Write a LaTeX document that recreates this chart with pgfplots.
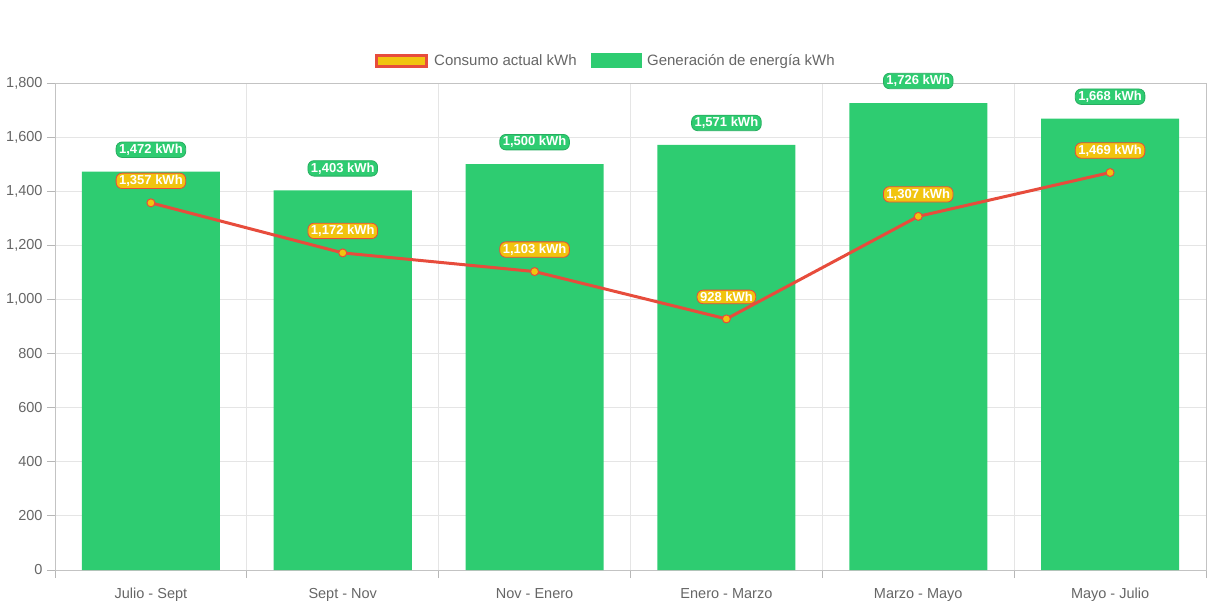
\documentclass[border=0pt]{standalone}
\usepackage{pgfplots}
\pgfplotsset{compat=1.18}
\usepackage{fontspec}
\setmainfont{Liberation Sans}

\definecolor{verde}{HTML}{2ECC71}
\definecolor{verdeosc}{HTML}{27AE60}
\definecolor{rojo}{HTML}{E74C3C}
\definecolor{amarillo}{HTML}{F1C40F}
\definecolor{texto}{HTML}{666666}
\definecolor{rejilla}{HTML}{E5E5E5}

\pgfplotstableread{
x gen cons
0 1472 1357
1 1403 1172
2 1500 1103
3 1571 928
4 1726 1307
5 1668 1469
}\datos

\begin{document}
\begin{tikzpicture}
\useasboundingbox (-55bp,-36bp) rectangle (1158bp,570bp);
\begin{axis}[
  at={(0,0)}, anchor=south west,
  scale only axis,
  width=1151bp, height=487bp,
  xmin=-0.5, xmax=5.5,
  ymin=0, ymax=1800,
  ytick={0,200,...,1800},
  xtick={0,...,5},
  xticklabels={Julio - Sept, Sept - Nov, Nov - Enero, Enero - Marzo, Marzo - Mayo, Mayo - Julio},
  minor xtick={-0.5,0.5,...,5.5},
  xtick pos=bottom, ytick pos=left,
  major x tick style={draw=none},
  minor x tick style={draw=rejilla!80!black, line width=0.8bp},
  major y tick style={draw=rejilla!80!black, line width=0.8bp},
  tick align=outside,
  major tick length=8bp, minor tick length=8bp,
  ymajorgrids, xminorgrids,
  grid style={draw=rejilla, line width=0.8bp},
  axis line style={draw=rejilla!85!black, line width=0.8bp},
  /pgf/number format/1000 sep={,},
  /pgf/number format/assume math mode=true,
  tick label style={font=\fontsize{14.5bp}{16bp}\selectfont, text=texto},
  xticklabel style={yshift=-6bp, text height=11bp, text depth=3bp},
  yticklabel style={xshift=-1bp},
  legend style={at={(0.4787,1)}, anchor=south, yshift=12bp, draw=none, fill=none,
    font=\fontsize{15bp}{17bp}\selectfont, text=texto,
    legend columns=2, column sep=4bp,
    /tikz/every even column/.append style={column sep=12bp}},
  legend cell align=left,
  every node near coord/.append style={
    font=\bfseries\fontsize{13bp}{15bp}\selectfont, text=white,
    anchor=center, yshift=22bp, rounded corners=6bp,
    inner xsep=3bp, inner ysep=2bp, line width=0.8bp},
  clip=false,
]
\addlegendimage{legend image code/.code={
  \draw[fill=amarillo, draw=rojo, line width=3bp] (0bp,-5.5bp) rectangle (50bp,5.5bp);}}
\addlegendentry{Consumo actual kWh}
\addlegendimage{legend image code/.code={
  \fill[verde] (0bp,-7bp) rectangle (50bp,7bp);}}
\addlegendentry{Generación de energía kWh}

\addplot[ybar, bar width=138bp, fill=verde, draw=none, forget plot,
  nodes near coords={\pgfmathprintnumber{\pgfplotspointmeta} kWh},
  every node near coord/.append style={fill=verde, draw=verdeosc}]
  table[x=x, y=gen] {\datos};

\addplot[sharp plot, draw=rojo, line width=3bp, forget plot,
  mark=*, mark size=4bp,
  mark options={fill=amarillo, draw=rojo, line width=1bp},
  nodes near coords={\pgfmathprintnumber{\pgfplotspointmeta} kWh},
  every node near coord/.append style={fill=amarillo, draw=rojo}]
  table[x=x, y=cons] {\datos};
\end{axis}
\end{tikzpicture}
\end{document}
